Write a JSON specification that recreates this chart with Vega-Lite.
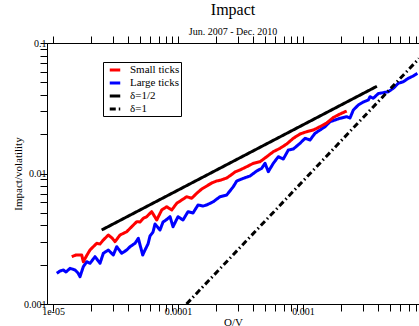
{
  "$schema": "https://vega.github.io/schema/vega-lite/v6.json",
  "autosize": {"type": "none"},
  "padding": {"left": 47, "top": 43, "right": 0, "bottom": 22},
  "width": 372,
  "height": 261,
  "background": "white",
  "title": {"text": "Impact", "subtitle": "Jun. 2007 - Dec. 2010", "font": "Liberation Serif", "fontSize": 16, "fontWeight": "normal", "color": "black", "subtitleFont": "Liberation Serif", "subtitleFontSize": 10, "subtitleColor": "black", "anchor": "middle", "offset": -1.5, "subtitlePadding": 9},
  "config": {
    "view": {"stroke": "black", "strokeWidth": 1},
    "axis": {"grid": false, "domainColor": "black", "domainWidth": 1, "tickColor": "black", "tickWidth": 1, "labelFont": "Liberation Serif", "labelFontSize": 10, "labelColor": "black", "titleFont": "Liberation Serif", "titleFontSize": 11, "titleFontWeight": "normal", "titleColor": "black"},
    "legend": {"labelFont": "Liberation Serif", "labelFontSize": 11, "labelColor": "black"}
  },
  "data": {"values": [
    {"s":"Large ticks","x":1.071e-5,"y":1.719e-3},{"s":"Large ticks","x":1.138e-5,"y":1.790e-3},{"s":"Large ticks","x":1.209e-5,"y":1.822e-3},{"s":"Large ticks","x":1.271e-5,"y":1.759e-3},{"s":"Large ticks","x":1.368e-5,"y":1.877e-3},{"s":"Large ticks","x":1.500e-5,"y":1.822e-3},{"s":"Large ticks","x":1.585e-5,"y":1.728e-3},{"s":"Large ticks","x":1.644e-5,"y":1.619e-3},{"s":"Large ticks","x":1.747e-5,"y":1.931e-3},{"s":"Large ticks","x":1.860e-5,"y":2.109e-3},{"s":"Large ticks","x":1.977e-5,"y":2.051e-3},{"s":"Large ticks","x":2.168e-5,"y":2.304e-3},{"s":"Large ticks","x":2.377e-5,"y":2.051e-3},{"s":"Large ticks","x":2.526e-5,"y":2.446e-3},{"s":"Large ticks","x":2.770e-5,"y":2.593e-3},{"s":"Large ticks","x":3.037e-5,"y":2.374e-3},{"s":"Large ticks","x":3.233e-5,"y":2.749e-3},{"s":"Large ticks","x":3.545e-5,"y":2.446e-3},{"s":"Large ticks","x":3.887e-5,"y":2.593e-3},{"s":"Large ticks","x":4.130e-5,"y":2.749e-3},{"s":"Large ticks","x":4.529e-5,"y":2.918e-3},{"s":"Large ticks","x":4.812e-5,"y":3.186e-3},{"s":"Large ticks","x":5.219e-5,"y":2.374e-3},{"s":"Large ticks","x":5.445e-5,"y":2.593e-3},{"s":"Large ticks","x":5.754e-5,"y":2.883e-3},{"s":"Large ticks","x":5.970e-5,"y":3.320e-3},{"s":"Large ticks","x":6.310e-5,"y":3.562e-3},{"s":"Large ticks","x":6.547e-5,"y":4.102e-3},{"s":"Large ticks","x":7.178e-5,"y":3.690e-3},{"s":"Large ticks","x":7.586e-5,"y":4.250e-3},{"s":"Large ticks","x":8.017e-5,"y":4.403e-3},{"s":"Large ticks","x":8.630e-5,"y":4.667e-3},{"s":"Large ticks","x":9.120e-5,"y":3.911e-3},{"s":"Large ticks","x":1.000e-4,"y":4.667e-3},{"s":"Large ticks","x":1.096e-4,"y":4.403e-3},{"s":"Large ticks","x":1.202e-4,"y":5.097e-3},{"s":"Large ticks","x":1.318e-4,"y":4.981e-3},{"s":"Large ticks","x":1.445e-4,"y":5.736e-3},{"s":"Large ticks","x":1.585e-4,"y":5.636e-3},{"s":"Large ticks","x":1.697e-4,"y":5.736e-3},{"s":"Large ticks","x":1.916e-4,"y":6.080e-3},{"s":"Large ticks","x":2.168e-4,"y":6.641e-3},{"s":"Large ticks","x":2.452e-4,"y":6.842e-3},{"s":"Large ticks","x":2.770e-4,"y":7.926e-3},{"s":"Large ticks","x":2.949e-4,"y":8.758e-3},{"s":"Large ticks","x":3.330e-4,"y":9.188e-3},{"s":"Large ticks","x":3.767e-4,"y":9.568e-3},{"s":"Large ticks","x":4.262e-4,"y":1.045e-2},{"s":"Large ticks","x":4.673e-4,"y":1.096e-2},{"s":"Large ticks","x":4.966e-4,"y":1.197e-2},{"s":"Large ticks","x":5.277e-4,"y":1.032e-2},{"s":"Large ticks","x":5.786e-4,"y":1.197e-2},{"s":"Large ticks","x":6.345e-4,"y":1.345e-2},{"s":"Large ticks","x":6.957e-4,"y":1.291e-2},{"s":"Large ticks","x":7.628e-4,"y":1.514e-2},{"s":"Large ticks","x":8.363e-4,"y":1.541e-2},{"s":"Large ticks","x":9.463e-4,"y":1.703e-2},{"s":"Large ticks","x":1.038e-3,"y":1.861e-2},{"s":"Large ticks","x":1.138e-3,"y":1.806e-2},{"s":"Large ticks","x":1.247e-3,"y":2.032e-2},{"s":"Large ticks","x":1.368e-3,"y":2.154e-2},{"s":"Large ticks","x":1.500e-3,"y":2.284e-2},{"s":"Large ticks","x":1.644e-3,"y":2.494e-2},{"s":"Large ticks","x":1.803e-3,"y":2.570e-2},{"s":"Large ticks","x":1.977e-3,"y":2.649e-2},{"s":"Large ticks","x":2.237e-3,"y":2.724e-2},{"s":"Large ticks","x":2.377e-3,"y":2.663e-2},{"s":"Large ticks","x":2.526e-3,"y":3.066e-2},{"s":"Large ticks","x":2.770e-3,"y":3.349e-2},{"s":"Large ticks","x":3.037e-3,"y":3.531e-2},{"s":"Large ticks","x":3.330e-3,"y":3.659e-2},{"s":"Large ticks","x":3.435e-3,"y":3.877e-2},{"s":"Large ticks","x":3.651e-3,"y":3.770e-2},{"s":"Large ticks","x":4.003e-3,"y":4.102e-2},{"s":"Large ticks","x":4.389e-3,"y":4.161e-2},{"s":"Large ticks","x":4.812e-3,"y":4.235e-2},{"s":"Large ticks","x":5.277e-3,"y":4.497e-2},{"s":"Large ticks","x":5.786e-3,"y":4.912e-2},{"s":"Large ticks","x":6.345e-3,"y":5.051e-2},{"s":"Large ticks","x":6.957e-3,"y":5.364e-2},{"s":"Large ticks","x":7.628e-3,"y":5.587e-2},{"s":"Large ticks","x":8.212e-3,"y":5.859e-2},
    {"s":"Small ticks","x":1.411e-5,"y":2.304e-3},{"s":"Small ticks","x":1.528e-5,"y":2.374e-3},{"s":"Small ticks","x":1.697e-5,"y":2.374e-3},{"s":"Small ticks","x":1.747e-5,"y":2.109e-3},{"s":"Small ticks","x":1.871e-5,"y":2.374e-3},{"s":"Small ticks","x":1.977e-5,"y":2.593e-3},{"s":"Small ticks","x":2.089e-5,"y":2.734e-3},{"s":"Small ticks","x":2.237e-5,"y":2.918e-3},{"s":"Small ticks","x":2.377e-5,"y":2.883e-3},{"s":"Small ticks","x":2.526e-5,"y":3.094e-3},{"s":"Small ticks","x":2.770e-5,"y":3.379e-3},{"s":"Small ticks","x":2.965e-5,"y":3.205e-3},{"s":"Small ticks","x":3.133e-5,"y":3.002e-3},{"s":"Small ticks","x":3.435e-5,"y":3.379e-3},{"s":"Small ticks","x":3.887e-5,"y":3.581e-3},{"s":"Small ticks","x":4.262e-5,"y":3.911e-3},{"s":"Small ticks","x":4.673e-5,"y":4.273e-3},{"s":"Small ticks","x":4.966e-5,"y":4.250e-3},{"s":"Small ticks","x":5.277e-5,"y":4.537e-3},{"s":"Small ticks","x":5.618e-5,"y":4.667e-3},{"s":"Small ticks","x":5.970e-5,"y":4.955e-3},{"s":"Small ticks","x":6.160e-5,"y":5.097e-3},{"s":"Small ticks","x":6.754e-5,"y":4.403e-3},{"s":"Small ticks","x":7.406e-5,"y":5.252e-3},{"s":"Small ticks","x":8.121e-5,"y":5.567e-3},{"s":"Small ticks","x":8.905e-5,"y":5.252e-3},{"s":"Small ticks","x":9.763e-5,"y":5.909e-3},{"s":"Small ticks","x":1.071e-4,"y":6.265e-3},{"s":"Small ticks","x":1.174e-4,"y":6.641e-3},{"s":"Small ticks","x":1.287e-4,"y":6.457e-3},{"s":"Small ticks","x":1.411e-4,"y":7.051e-3},{"s":"Small ticks","x":1.547e-4,"y":7.605e-3},{"s":"Small ticks","x":1.697e-4,"y":8.021e-3},{"s":"Small ticks","x":1.860e-4,"y":8.456e-3},{"s":"Small ticks","x":2.039e-4,"y":8.758e-3},{"s":"Small ticks","x":2.208e-4,"y":8.917e-3},{"s":"Small ticks","x":2.452e-4,"y":9.237e-3},{"s":"Small ticks","x":2.655e-4,"y":9.739e-3},{"s":"Small ticks","x":2.857e-4,"y":1.027e-2},{"s":"Small ticks","x":3.133e-4,"y":1.064e-2},{"s":"Small ticks","x":3.545e-4,"y":1.127e-2},{"s":"Small ticks","x":4.003e-4,"y":1.197e-2},{"s":"Small ticks","x":4.529e-4,"y":1.231e-2},{"s":"Small ticks","x":5.124e-4,"y":1.345e-2},{"s":"Small ticks","x":5.786e-4,"y":1.469e-2},{"s":"Small ticks","x":6.547e-4,"y":1.560e-2},{"s":"Small ticks","x":7.406e-4,"y":1.683e-2},{"s":"Small ticks","x":8.363e-4,"y":1.861e-2},{"s":"Small ticks","x":9.463e-4,"y":2.008e-2},{"s":"Small ticks","x":1.071e-3,"y":2.091e-2},{"s":"Small ticks","x":1.209e-3,"y":2.154e-2},{"s":"Small ticks","x":1.368e-3,"y":2.284e-2},{"s":"Small ticks","x":1.547e-3,"y":2.438e-2},{"s":"Small ticks","x":1.747e-3,"y":2.686e-2},{"s":"Small ticks","x":1.977e-3,"y":2.857e-2},{"s":"Small ticks","x":2.237e-3,"y":3.012e-2},
    {"s":"δ=1/2","x":2.45e-5,"y":3.69e-3},{"s":"δ=1/2","x":3.9e-3,"y":4.66e-2},
    {"s":"δ=1","x":1.17e-4,"y":1.0e-3},{"s":"δ=1","x":8.47e-3,"y":7.6e-2}
  ]},
  "encoding": {
    "x": {"field": "x", "type": "quantitative", "scale": {"type": "log", "domain": [8.95e-6, 8.47e-3], "nice": false, "zero": false}},
    "y": {"field": "y", "type": "quantitative", "scale": {"type": "log", "domain": [0.001, 0.1], "nice": false, "zero": false}}
  },
  "layer": [
    {
      "mark": {"type": "line", "clip": true, "strokeCap": "butt", "strokeJoin": "round"},
      "encoding": {
        "x": {"field": "x", "type": "quantitative", "title": "O/V",
          "axis": {"orient": "bottom", "values": [1e-5,2e-5,3e-5,4e-5,5e-5,6e-5,7e-5,8e-5,9e-5,1e-4,2e-4,3e-4,4e-4,5e-4,6e-4,7e-4,8e-4,9e-4,1e-3,2e-3,3e-3,4e-3,5e-3,6e-3,7e-3,8e-3],
            "labelExpr": "datum.value === 0.00001 ? '1e-05' : datum.value === 0.0001 ? '0.0001' : datum.value === 0.001 ? '0.001' : ''",
            "labelFont": "Liberation Serif", "titleFont": "Liberation Serif",
            "tickSize": 7, "labelPadding": -5, "titlePadding": 0, "labelFlush": false, "labelOverlap": false,
            "encode": {"ticks": {"update": {"y2": {"signal": "abs(log(datum.value)/LN10 - round(log(datum.value)/LN10)) < 0.01 ? -7 : -4"}}}}}},
        "y": {"field": "y", "type": "quantitative", "title": "Impact/volatility",
          "axis": {"orient": "left", "values": [0.001,0.002,0.003,0.004,0.005,0.006,0.007,0.008,0.009,0.01,0.02,0.03,0.04,0.05,0.06,0.07,0.08,0.09,0.1],
            "labelExpr": "datum.value === 0.001 ? '0.001' : datum.value === 0.01 ? '0.01' : datum.value === 0.1 ? '0.1' : ''",
            "labelFont": "Liberation Serif", "titleFont": "Liberation Serif",
            "tickSize": 7, "labelPadding": -6, "titlePadding": 0, "labelFlush": false, "labelOverlap": false,
            "encode": {"ticks": {"update": {"x2": {"signal": "abs(log(datum.value)/LN10 - round(log(datum.value)/LN10)) < 0.01 ? 7 : 4"}}}}}},
        "color": {"field": "s", "type": "nominal",
          "scale": {"domain": ["Small ticks", "Large ticks", "δ=1/2", "δ=1"], "range": ["#ff0000", "#0000ff", "#000000", "#000000"]},
          "legend": {"title": null, "orient": "none", "legendX": 56, "legendY": 19, "strokeColor": "black", "fillColor": "white", "padding": 1, "symbolOffset": 4, "symbolType": "stroke", "symbolSize": 110, "symbolStrokeWidth": 1.5, "rowPadding": 0, "labelOffset": 8, "labelFont": "Liberation Serif", "labelFontSize": 11, "labelColor": "black"}},
        "strokeDash": {"field": "s", "type": "nominal",
          "scale": {"domain": ["Small ticks", "Large ticks", "δ=1/2", "δ=1"], "range": [[1, 0], [1, 0], [1, 0], [6, 3, 1.5, 3]]},
          "legend": {"title": null, "orient": "none", "legendX": 56, "legendY": 19, "strokeColor": "black", "fillColor": "white", "padding": 1, "symbolOffset": 4, "symbolType": "stroke", "symbolSize": 110, "symbolStrokeWidth": 1.5, "rowPadding": 0, "labelOffset": 8, "labelFont": "Liberation Serif", "labelFontSize": 11, "labelColor": "black"}},
        "strokeWidth": {"field": "s", "type": "nominal",
          "scale": {"domain": ["Small ticks", "Large ticks", "δ=1/2", "δ=1"], "range": [3, 3, 2.5, 2]}, "legend": null}
      }
    },
    {
      "mark": {"type": "line", "opacity": 0},
      "transform": [{"filter": "datum.s === 'δ=1/2'"}],
      "encoding": {
        "x": {"field": "x", "type": "quantitative",
          "axis": {"orient": "top", "title": null, "labels": false, "values": [1e-5,2e-5,3e-5,4e-5,5e-5,6e-5,7e-5,8e-5,9e-5,1e-4,2e-4,3e-4,4e-4,5e-4,6e-4,7e-4,8e-4,9e-4,1e-3,2e-3,3e-3,4e-3,5e-3,6e-3,7e-3,8e-3],
            "tickSize": 7,
            "encode": {"ticks": {"update": {"y2": {"signal": "abs(log(datum.value)/LN10 - round(log(datum.value)/LN10)) < 0.01 ? 7 : 4"}}}}}},
        "y": {"field": "y", "type": "quantitative",
          "axis": {"orient": "right", "title": null, "labels": false, "values": [0.001,0.002,0.003,0.004,0.005,0.006,0.007,0.008,0.009,0.01,0.02,0.03,0.04,0.05,0.06,0.07,0.08,0.09,0.1],
            "tickSize": 7,
            "encode": {"ticks": {"update": {"x2": {"signal": "abs(log(datum.value)/LN10 - round(log(datum.value)/LN10)) < 0.01 ? -7 : -4"}}}}}}
      }
    }
  ],
  "resolve": {"axis": {"x": "independent", "y": "independent"}}
}
